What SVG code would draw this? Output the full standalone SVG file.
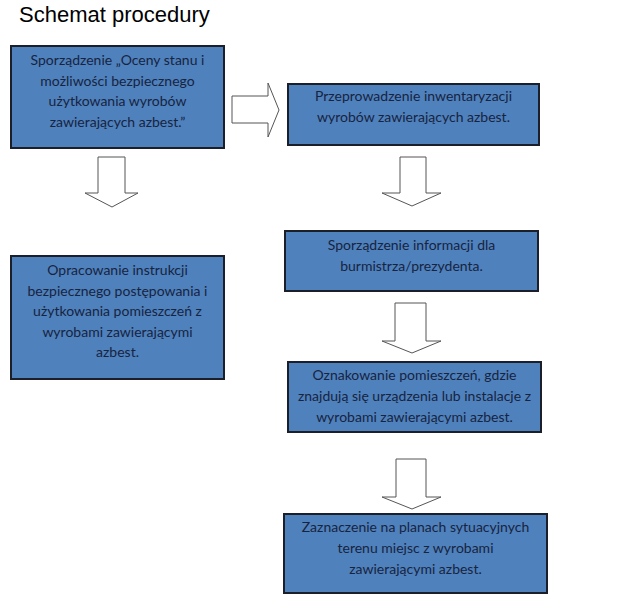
<svg xmlns="http://www.w3.org/2000/svg" width="642" height="595" viewBox="0 0 642 595">
<style>
.box{fill:#4f81bd;stroke:#1b1f2a;stroke-width:2}
.t{font-family:Lato,"Open Sans","Liberation Sans",sans-serif;font-size:14px;fill:#17243f;text-anchor:middle}
.arr{fill:#ffffff;stroke:#555555;stroke-width:1}
.title{font-family:"Liberation Sans",Arial,sans-serif;font-size:22px;fill:#000000}
</style>
<rect width="642" height="595" fill="#ffffff"/>
<text class="title" x="19" y="22">Schemat procedury</text>
<g id="connectors">
<path class="arr" d="M232,96 L268,96 L268,83 L279,110 L268,137 L268,123 L232,123 Z"/>
<path class="arr" d="M98,157 L125,157 L125,193 L138,193 L112,207 L85,193 L98,193 Z"/>
<path class="arr" d="M400,157 L426,157 L426,193 L441,193 L412,206 L382,193 L400,193 Z"/>
<path class="arr" d="M395,303 L426,303 L426,341 L441,341 L412,353 L382,341 L395,341 Z"/>
<path class="arr" d="M396,459 L426,459 L426,497 L441,497 L412,509 L382,497 L396,497 Z"/>
</g>
<g id="n1">
<rect class="box" x="11" y="46" width="213" height="102"/>
<text class="t" x="117.5" y="65">Sporządzenie „Oceny stanu i</text>
<text class="t" x="117.5" y="85.5">możliwości bezpiecznego</text>
<text class="t" x="117.5" y="106">użytkowania wyrobów</text>
<text class="t" x="117.5" y="126.5">zawierających azbest.”</text>
</g>
<g id="n2">
<rect class="box" x="288" y="84" width="251" height="61"/>
<text class="t" x="413.5" y="101">Przeprowadzenie inwentaryzacji</text>
<text class="t" x="413.5" y="122">wyrobów zawierających azbest.</text>
</g>
<g id="n3">
<rect class="box" x="11" y="256" width="213" height="123"/>
<text class="t" x="117.5" y="275">Opracowanie instrukcji</text>
<text class="t" x="117.5" y="295.5">bezpiecznego postępowania i</text>
<text class="t" x="117.5" y="316">użytkowania pomieszczeń z</text>
<text class="t" x="117.5" y="336.5">wyrobami zawierającymi</text>
<text class="t" x="117.5" y="357">azbest.</text>
</g>
<g id="n4">
<rect class="box" x="285" y="231" width="253" height="60"/>
<text class="t" x="411.5" y="250">Sporządzenie informacji dla</text>
<text class="t" x="411.5" y="270.5">burmistrza/prezydenta.</text>
</g>
<g id="n5">
<rect class="box" x="288" y="362" width="253" height="70"/>
<text class="t" x="414.5" y="380">Oznakowanie pomieszczeń, gdzie</text>
<text class="t" x="414.5" y="401">znajdują się urządzenia lub instalacje z</text>
<text class="t" x="414.5" y="422">wyrobami zawierającymi azbest.</text>
</g>
<g id="n6">
<rect class="box" x="284" y="514" width="263" height="79"/>
<text class="t" x="415.5" y="532">Zaznaczenie na planach sytuacyjnych</text>
<text class="t" x="415.5" y="553">terenu miejsc z wyrobami</text>
<text class="t" x="415.5" y="574">zawierającymi azbest.</text>
</g>
</svg>
